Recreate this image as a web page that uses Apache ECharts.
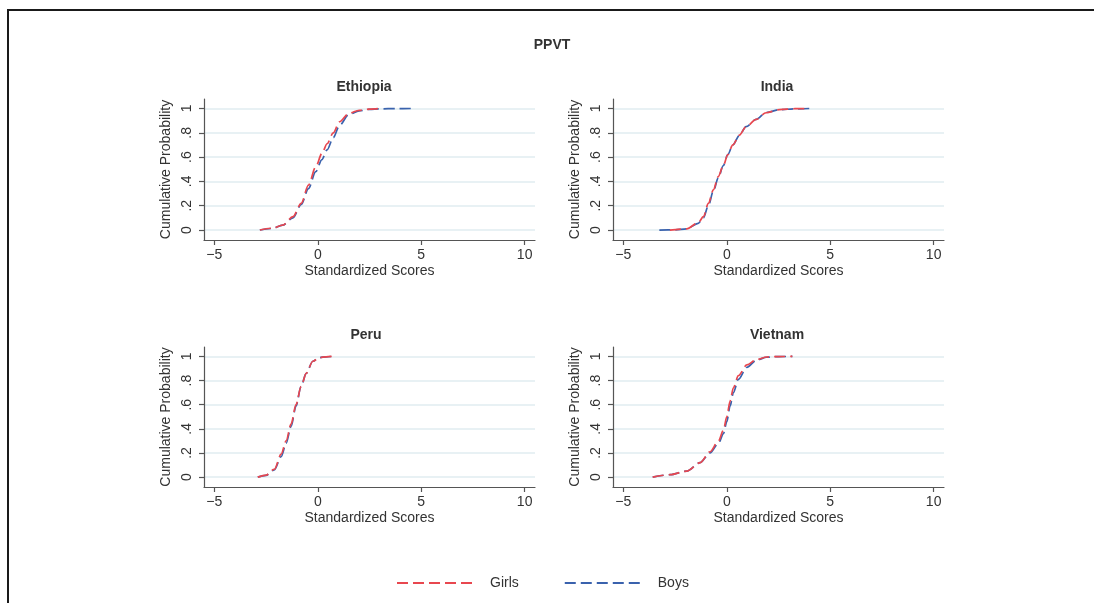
<!DOCTYPE html>
<html>
<head>
<meta charset="utf-8">
<script src="https://cdn.jsdelivr.net/npm/echarts@6/dist/echarts.min.js"></script>
<style>
  html, body { margin: 0; padding: 0; background: #fff; }
  #chart { width: 1094px; height: 603px; }
</style>
</head>
<body>
<div id="chart"></div>
<script>
// Cumulative distributions of standardized PPVT scores, girls vs boys, by country
const countries = ['Ethiopia', 'India', 'Peru', 'Vietnam'];
const seriesNames = ['Girls', 'Boys'];
const xTicks = [-5, 0, 5, 10];
const yTicks = [0, 0.2, 0.4, 0.6, 0.8, 1];

const ethiopiaGirlsX = [-2.8, -2.2, -1.7, -1.2, -0.8, -0.45, -0.1, 0.2, 0.45, 0.75, 1.05, 1.5, 2.0, 2.5, 3.0];
const ethiopiaGirlsY = [0, 0.015, 0.04, 0.11, 0.22, 0.37, 0.52, 0.63, 0.71, 0.8, 0.89, 0.96, 0.985, 0.995, 1];
const ethiopiaBoysX = [-2.8, -2.2, -1.7, -1.2, -0.8, -0.45, -0.1, 0.2, 0.45, 0.75, 1.05, 1.5, 2.0, 2.5, 3.0, 3.8, 4.5];
const ethiopiaBoysY = [0, 0.013, 0.04, 0.1, 0.21, 0.34, 0.48, 0.58, 0.66, 0.76, 0.86, 0.95, 0.98, 0.993, 0.997, 0.999, 1];

const indiaGirlsX = [-2.75, -1.94, -1.38, -1.13, -0.89, -0.65, -0.41, -0.17, 0.05, 0.29, 0.61, 0.93, 1.42, 1.9, 2.55, 3.3, 3.9];
const indiaGirlsY = [0, 0.01, 0.06, 0.11, 0.22, 0.33, 0.44, 0.53, 0.62, 0.7, 0.78, 0.85, 0.91, 0.965, 0.99, 0.998, 1];
const indiaBoysX = [-3.26, -2.5, -1.94, -1.38, -1.13, -0.89, -0.65, -0.41, -0.17, 0.05, 0.29, 0.61, 0.93, 1.42, 1.9, 2.55, 3.3, 4.0];
const indiaBoysY = [0, 0.002, 0.01, 0.055, 0.1, 0.2, 0.32, 0.43, 0.53, 0.62, 0.7, 0.78, 0.85, 0.91, 0.967, 0.99, 0.997, 1];

const peruGirlsX = [-2.9, -2.5, -2.1, -1.77, -1.53, -1.29, -1.05, -0.81, -0.56, -0.24, 0.08, 0.4, 0.69];
const peruGirlsY = [0, 0.017, 0.065, 0.19, 0.3, 0.44, 0.6, 0.75, 0.86, 0.96, 0.99, 0.997, 1];
const peruBoysX = [-2.9, -2.5, -2.1, -1.77, -1.53, -1.29, -1.05, -0.81, -0.56, -0.24, 0.08, 0.4, 0.69];
const peruBoysY = [0, 0.015, 0.06, 0.17, 0.28, 0.42, 0.59, 0.75, 0.86, 0.96, 0.99, 0.997, 1];

const vietnamGirlsX = [-3.58, -2.74, -1.93, -1.29, -0.81, -0.4, -0.16, 0, 0.16, 0.32, 0.56, 0.97, 1.45, 1.93, 2.5, 3.17];
const vietnamGirlsY = [0, 0.02, 0.05, 0.12, 0.21, 0.3, 0.39, 0.5, 0.63, 0.74, 0.84, 0.93, 0.975, 0.995, 0.999, 1];
const vietnamBoysX = [-3.58, -2.74, -1.93, -1.29, -0.81, -0.4, -0.16, 0, 0.16, 0.32, 0.56, 0.97, 1.45, 1.93, 2.5, 3.17];
const vietnamBoysY = [0, 0.02, 0.05, 0.12, 0.2, 0.28, 0.36, 0.46, 0.59, 0.7, 0.81, 0.91, 0.97, 0.993, 0.999, 1];

const curves = {
  Ethiopia: { Girls: [ethiopiaGirlsX, ethiopiaGirlsY], Boys: [ethiopiaBoysX, ethiopiaBoysY] },
  India: { Girls: [indiaGirlsX, indiaGirlsY], Boys: [indiaBoysX, indiaBoysY] },
  Peru: { Girls: [peruGirlsX, peruGirlsY], Boys: [peruBoysX, peruBoysY] },
  Vietnam: { Girls: [vietnamGirlsX, vietnamGirlsY], Boys: [vietnamBoysX, vietnamBoysY] }
};

const FONT = '"Liberation Sans", Arial, sans-serif';
const colors = { Girls: '#e8474f', Boys: '#3a62ad' };
const DASH = [11, 5];

// panel boxes (plot regions)
const panels = [
  { left: 204, top: 99, width: 331, height: 141, titleX: 359, titleY: 84 },
  { left: 613, top: 99, width: 331, height: 141, titleX: 772, titleY: 84 },
  { left: 204, top: 347, width: 331, height: 140, titleX: 361, titleY: 332 },
  { left: 613, top: 347, width: 331, height: 140, titleX: 772, titleY: 332 }
];

const grids = [], xAxes = [], yAxes = [], series = [], titles = [];

titles.push({
  text: 'PPVT', left: 547, top: 33, textAlign: 'center',
  textStyle: { fontFamily: FONT, fontSize: 14, fontWeight: 'bold', color: '#333' }
});

countries.forEach((c, i) => {
  const p = panels[i];
  grids.push({ left: p.left, top: p.top, width: p.width, height: p.height, containLabel: false });
  titles.push({
    text: c, left: p.titleX, top: p.titleY - 9, textAlign: 'center',
    textStyle: { fontFamily: FONT, fontSize: 14, fontWeight: 'bold', color: '#333' }
  });
  xAxes.push({
    type: 'value', gridIndex: i, min: -5.5, max: 10.5,
    name: 'Standardized Scores', nameLocation: 'middle', nameGap: 24,
    nameTextStyle: { fontFamily: FONT, fontSize: 14, color: '#333' },
    axisLine: { onZero: false, lineStyle: { color: '#555', width: 1.2 } },
    axisTick: { show: true, length: 5, customValues: xTicks, lineStyle: { color: '#555', width: 1.2 } },
    axisLabel: {
      customValues: xTicks, margin: 8, fontFamily: FONT, fontSize: 14, color: '#333',
      formatter: v => (v < 0 ? '\u2212' + Math.abs(v) : String(v))
    },
    splitLine: { show: false }
  });
  yAxes.push({
    type: 'value', gridIndex: i, min: -0.082, max: 1.078,
    name: 'Cumulative Probability', nameLocation: 'middle', nameGap: 31, nameRotate: 90,
    nameTextStyle: { fontFamily: FONT, fontSize: 14, color: '#333' },
    axisLine: { show: true, onZero: false, lineStyle: { color: '#555', width: 1.2 } },
    axisTick: { show: true, length: 5, customValues: yTicks, lineStyle: { color: '#555', width: 1.2 } },
    axisLabel: {
      customValues: yTicks, rotate: 90, margin: 10, fontFamily: FONT, fontSize: 14, color: '#333',
      formatter: v => (v === 0 ? '0' : v === 1 ? '1' : String(+v.toFixed(1)).replace(/^0\./, '.'))
    },
    splitLine: { show: true, lineStyle: { color: '#e1ecf0', width: 1.5 } }
  });
  seriesNames.forEach(g => {
    const [xs, ys] = curves[c][g];
    series.push({
      name: g, type: 'line', xAxisIndex: i, yAxisIndex: i,
      data: xs.map((x, k) => [x, ys[k]]),
      symbol: 'none', smooth: 0.3, smoothMonotone: 'x',
      lineStyle: { color: colors[g], width: 1.7, type: DASH },
      itemStyle: { color: colors[g] },
      z: g === 'Girls' ? 3 : 2
    });
  });
});

const chart = echarts.init(document.getElementById('chart'), null, { renderer: 'canvas' });
chart.setOption({
  animation: false,
  backgroundColor: '#fff',
  title: titles,
  grid: grids,
  xAxis: xAxes,
  yAxis: yAxes,
  series: series,
  legend: {
    data: seriesNames,
    left: 391, top: 571,
    itemWidth: 80, itemHeight: 15, itemGap: 45,
    itemStyle: { color: 'transparent', borderColor: 'transparent', borderWidth: 0 },
    lineStyle: { width: 2, type: DASH },
    textStyle: { fontFamily: FONT, fontSize: 14, color: '#333', padding: [0, 0, 0, 8] }
  },
  graphic: [{
    type: 'polyline',
    shape: { points: [[8, 603], [8, 10], [1094, 10]] },
    style: { stroke: '#1a1a1a', lineWidth: 2, fill: null },
    silent: true
  }]
});
</script>
</body>
</html>
